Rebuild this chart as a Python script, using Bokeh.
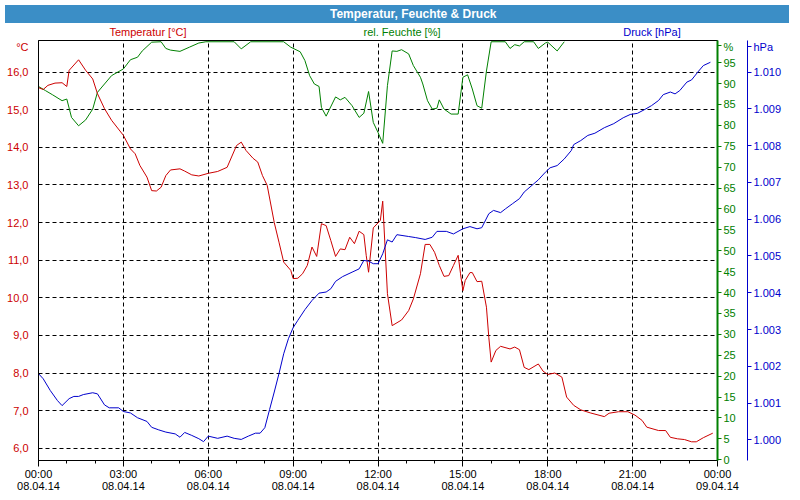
from bokeh.plotting import figure
from bokeh.models import Range1d, LinearAxis, FixedTicker, Div, ColumnDataSource
from bokeh.layouts import column
from bokeh.embed import file_html
from bokeh.resources import INLINE

FONT = "Liberation Sans"
RED = "#cc0000"
GREEN = "#008000"
BLUE = "#0000cc"
BAR = "#3b8ec6"

title_text = "Temperatur, Feuchte & Druck"
series_names = ["Temperatur [°C]", "rel. Feuchte [%]", "Druck [hPa]"]
unit_names = ["°C", "%", "hPa"]

x_tick_hours = [0, 3, 6, 9, 12, 15, 18, 21, 24]
x_tick_labels = ["00:00\n08.04.14", "03:00\n08.04.14", "06:00\n08.04.14", "09:00\n08.04.14",
                 "12:00\n08.04.14", "15:00\n08.04.14", "18:00\n08.04.14", "21:00\n08.04.14",
                 "00:00\n09.04.14"]
temp_ticks = [6, 7, 8, 9, 10, 11, 12, 13, 14, 15, 16]
temp_tick_labels = ["6,0", "7,0", "8,0", "9,0", "10,0", "11,0", "12,0", "13,0", "14,0", "15,0", "16,0"]
hum_ticks = [0, 5, 10, 15, 20, 25, 30, 35, 40, 45, 50, 55, 60, 65, 70, 75, 80, 85, 90, 95]
press_ticks = [1000, 1001, 1002, 1003, 1004, 1005, 1006, 1007, 1008, 1009, 1010]
press_tick_labels = ["1.000", "1.001", "1.002", "1.003", "1.004", "1.005", "1.006", "1.007",
                     "1.008", "1.009", "1.010"]
# where the unit captions sit on each axis (axis units)
unit_pos = [16.68, 99.1, 1010.70]

# minutes since 08.04.14 00:00
temp_min = [0, 10, 20, 35, 50, 60, 65, 85, 100, 115, 125, 140, 155, 180, 195, 205, 215, 230, 240, 250,
            260, 270, 280, 300, 310, 325, 340, 360, 380, 400, 420, 430, 440, 455, 465, 475, 485, 500, 510, 520,
            535, 540, 550, 560, 570, 580, 590, 600, 610, 620, 630, 640, 650, 660, 670, 680, 690, 695, 700, 710,
            725, 730, 740, 750, 770, 785, 795, 810, 820, 830, 840, 850, 860, 870, 880, 890, 895, 900, 905, 915,
            920, 930, 940, 950, 955, 960, 970, 980, 1000, 1010, 1020, 1030, 1040, 1060, 1070, 1080, 1095, 1110, 1120, 1135,
            1150, 1170, 1200, 1210, 1230, 1250, 1265, 1280, 1290, 1315, 1330, 1340, 1355, 1370, 1385, 1395, 1410, 1430]
temp_c = [15.59, 15.54, 15.65, 15.71, 15.72, 15.62, 16.05, 16.33, 16.05, 15.82, 15.43, 15.03, 14.72, 14.32, 13.96, 13.83, 13.52, 13.21, 12.85, 12.84,
          12.94, 13.25, 13.40, 13.43, 13.37, 13.27, 13.24, 13.31, 13.36, 13.47, 14.05, 14.14, 13.92, 13.71, 13.61, 13.25, 12.99, 12.00, 11.48, 10.95,
          10.73, 10.51, 10.52, 10.64, 10.86, 11.35, 11.10, 11.97, 11.92, 11.52, 11.10, 11.30, 11.28, 11.61, 11.44, 11.77, 11.68, 11.13, 10.68, 11.86,
          12.06, 12.57, 10.11, 9.26, 9.41, 9.66, 9.97, 10.64, 11.42, 11.42, 11.21, 10.86, 10.57, 10.59, 10.86, 11.13, 10.64, 10.19, 10.46, 10.67,
          10.67, 10.43, 10.44, 9.75, 8.95, 8.29, 8.60, 8.71, 8.64, 8.69, 8.62, 8.15, 8.09, 8.24, 8.05, 7.96, 8.00, 7.89, 7.36, 7.14,
          7.02, 6.94, 6.84, 6.93, 6.97, 6.97, 6.88, 6.74, 6.56, 6.47, 6.47, 6.29, 6.25, 6.23, 6.17, 6.17, 6.28, 6.40]

hum_min = [0, 15, 30, 50, 60, 70, 85, 100, 115, 125, 140, 155, 180, 195, 210, 220, 240, 260, 270, 280,
           300, 320, 340, 355, 415, 430, 450, 520, 535, 555, 565, 575, 585, 595, 600, 610, 630, 640, 650, 665,
           680, 690, 700, 710, 720, 730, 740, 750, 760, 770, 785, 795, 810, 815, 825, 835, 845, 850, 860, 875,
           890, 900, 910, 920, 930, 940, 950, 960, 990, 1000, 1010, 1020, 1030, 1050, 1060, 1075, 1080, 1100, 1115]
hum_pct = [89.3, 88.3, 87.3, 85.9, 86.3, 81.9, 79.9, 81.3, 83.9, 87.9, 89.9, 91.9, 93.5, 95.7, 96.3, 97.8, 99.9, 100, 98.4, 98.0,
           97.7, 98.7, 99.7, 100, 100, 98.3, 100, 100, 98.7, 97.6, 95.5, 91.9, 89.9, 89.3, 84.3, 82.2, 86.8, 86.1, 86.7, 84.7,
           81.9, 82.9, 88.1, 80.7, 78.3, 75.7, 89.5, 97.8, 97.7, 98.1, 97.1, 94.3, 91.5, 89.9, 85.9, 83.9, 84.1, 86.1, 83.9, 82.7,
           82.7, 91.5, 92.1, 88.7, 84.7, 84.1, 93.0, 100, 100, 98.4, 99.3, 99.0, 100, 100, 98.4, 99.7, 99.9, 97.8, 100]

press_min = [0, 10, 25, 40, 50, 65, 75, 85, 95, 115, 125, 140, 150, 170, 180, 195, 210, 230, 240, 255,
             270, 290, 300, 310, 325, 340, 350, 360, 380, 400, 415, 430, 445, 460, 470, 480, 490, 500, 510, 520,
             530, 540, 550, 565, 580, 595, 610, 620, 630, 645, 665, 680, 690, 700, 710, 720, 730, 740, 750, 760,
             785, 800, 820, 835, 845, 865, 880, 900, 915, 930, 940, 955, 965, 980, 990, 1005, 1020, 1030, 1050, 1060,
             1075, 1085, 1100, 1115, 1130, 1135, 1150, 1165, 1180, 1200, 1220, 1240, 1255, 1270, 1285, 1300, 1315, 1325, 1340, 1350,
             1360, 1375, 1385, 1400, 1410, 1425]
press_hpa = [1001.80, 1001.66, 1001.34, 1001.07, 1000.93, 1001.12, 1001.18, 1001.18, 1001.23, 1001.28, 1001.25, 1000.95, 1000.87, 1000.87, 1000.77, 1000.73, 1000.60, 1000.50, 1000.34, 1000.27,
             1000.21, 1000.16, 1000.07, 1000.20, 1000.12, 1000.03, 999.95, 1000.10, 1000.04, 1000.10, 1000.04, 1000.01, 1000.10, 1000.18, 1000.18, 1000.33, 1000.82, 1001.30, 1001.80, 1002.34,
             1002.75, 1003.05, 1003.25, 1003.54, 1003.79, 1003.99, 1004.02, 1004.11, 1004.31, 1004.44, 1004.56, 1004.65, 1004.88, 1004.86, 1004.79, 1004.79, 1005.06, 1005.44, 1005.38, 1005.58,
             1005.53, 1005.50, 1005.45, 1005.51, 1005.67, 1005.67, 1005.60, 1005.74, 1005.80, 1005.74, 1005.77, 1006.15, 1006.24, 1006.18, 1006.28, 1006.42, 1006.56, 1006.74, 1006.96, 1007.07,
             1007.28, 1007.40, 1007.46, 1007.64, 1007.87, 1008.03, 1008.14, 1008.28, 1008.34, 1008.49, 1008.60, 1008.76, 1008.85, 1008.88, 1008.98, 1009.09, 1009.23, 1009.39, 1009.46, 1009.41,
             1009.50, 1009.73, 1009.79, 1010.03, 1010.18, 1010.27]

assert len(temp_min) == len(temp_c)
assert len(hum_min) == len(hum_pct)
assert len(press_min) == len(press_hpa)

src_t = ColumnDataSource(dict(h=[m / 60 for m in temp_min], v=temp_c))
src_h = ColumnDataSource(dict(h=[m / 60 for m in hum_min], v=hum_pct))
src_p = ColumnDataSource(dict(h=[m / 60 for m in press_min], v=press_hpa))

W = 784
BAR_H = 18
DIV_H = 30
FIG_H = 484 - DIV_H

p = figure(width=W, height=FIG_H, output_backend="svg", toolbar_location=None,
           x_range=Range1d(0, 24), y_range=Range1d(5.673, 16.843),
           min_border_left=38, min_border_right=50, min_border_top=0, min_border_bottom=24,
           background_fill_color="white", border_fill_color="white")
p.extra_y_ranges = {"hum": Range1d(-0.17, 100.3), "press": Range1d(999.437, 1010.862)}
p.outline_line_color = "black"
p.outline_line_width = 1

# x axis
xa = p.xaxis[0]
xa.ticker = FixedTicker(ticks=x_tick_hours, minor_ticks=list(range(0, 25)))
xa.major_label_overrides = {h: lab for h, lab in zip(x_tick_hours, x_tick_labels)}
xa.axis_line_color = "black"
xa.major_tick_line_color = "black"
xa.minor_tick_line_color = "black"
xa.major_tick_out = 6
xa.major_tick_in = 0
xa.minor_tick_out = 3
xa.minor_tick_in = 0
xa.major_label_standoff = 1
xa.major_label_text_font = FONT
xa.major_label_text_font_size = "11px"
xa.major_label_text_line_height = 1.0
xa.major_label_text_color = "black"

# left (temperature) axis, with the unit caption as an extra label
ya = p.yaxis[0]
ya.ticker = FixedTicker(ticks=temp_ticks + [unit_pos[0]])
ov = {t: lab for t, lab in zip(temp_ticks, temp_tick_labels)}
ov[unit_pos[0]] = unit_names[0]
ya.major_label_overrides = ov
ya.axis_line_color = "black"
ya.major_tick_line_color = None
ya.minor_tick_line_color = None
ya.major_label_standoff = 4
ya.major_label_text_font = FONT
ya.major_label_text_font_size = "11px"
ya.major_label_text_color = RED

# humidity axis
ha = LinearAxis(y_range_name="hum", ticker=FixedTicker(ticks=hum_ticks + [unit_pos[1]]),
                axis_line_color=GREEN, axis_line_width=2, major_tick_line_color=GREEN,
                major_tick_out=4, major_tick_in=0, minor_tick_line_color=None,
                major_label_text_color=GREEN, major_label_text_font=FONT,
                major_label_text_font_size="11px", major_label_standoff=2,
                axis_label=" ", axis_label_standoff=1, axis_label_text_font_size="4px")
ha.major_label_overrides = {unit_pos[1]: unit_names[1]}
p.add_layout(ha, "right")

# pressure axis
pa = LinearAxis(y_range_name="press", ticker=FixedTicker(ticks=press_ticks + [unit_pos[2]]),
                axis_line_color=BLUE, axis_line_width=1, major_tick_line_color=BLUE,
                major_tick_out=4, major_tick_in=0, minor_tick_line_color=None,
                major_label_text_color=BLUE, major_label_text_font=FONT,
                major_label_text_font_size="11px", major_label_standoff=2)
ovp = {t: lab for t, lab in zip(press_ticks, press_tick_labels)}
ovp[unit_pos[2]] = unit_names[2]
pa.major_label_overrides = ovp
p.add_layout(pa, "right")

# grids
p.xgrid.ticker = FixedTicker(ticks=x_tick_hours[1:-1])
p.ygrid.ticker = FixedTicker(ticks=temp_ticks)
for g in (p.xgrid[0], p.ygrid[0]):
    g.grid_line_color = "black"
    g.grid_line_dash = "4 3"
    g.grid_line_width = 1
    g.grid_line_alpha = 1.0

# series
p.line(x="h", y="v", source=src_h, y_range_name="hum", line_color=GREEN, line_width=1)
p.line(x="h", y="v", source=src_t, line_color=RED, line_width=1)
p.line(x="h", y="v", source=src_p, y_range_name="press", line_color=BLUE, line_width=1)

# title bar and series captions (HTML text)
name_centers = [143, 397, 647]
name_colors = [RED, GREEN, BLUE]
spans = "".join(
    f'<div style="position:absolute;left:{cx - 80}px;top:{BAR_H + 3}px;width:160px;'
    f'text-align:center;color:{col};font-size:11px;line-height:12px;">{name}</div>'
    for name, cx, col in zip(series_names, name_centers, name_colors))
html = (f'<div style="position:relative;width:{W}px;height:{DIV_H}px;font-family:\'{FONT}\';background:white;">'
        f'<div style="position:absolute;left:0;top:0;width:{W}px;height:{BAR_H}px;background:{BAR};"></div>'
        f'<div style="position:absolute;left:325px;top:0;height:{BAR_H}px;color:white;font-weight:bold;'
        f'font-size:12px;line-height:{BAR_H}px;white-space:nowrap;">{title_text}</div>'
        f'{spans}</div>')
title = Div(text=html, width=W, height=DIV_H)

layout = column(title, p, spacing=0)
open("out.html", "w").write(file_html(layout, INLINE))
